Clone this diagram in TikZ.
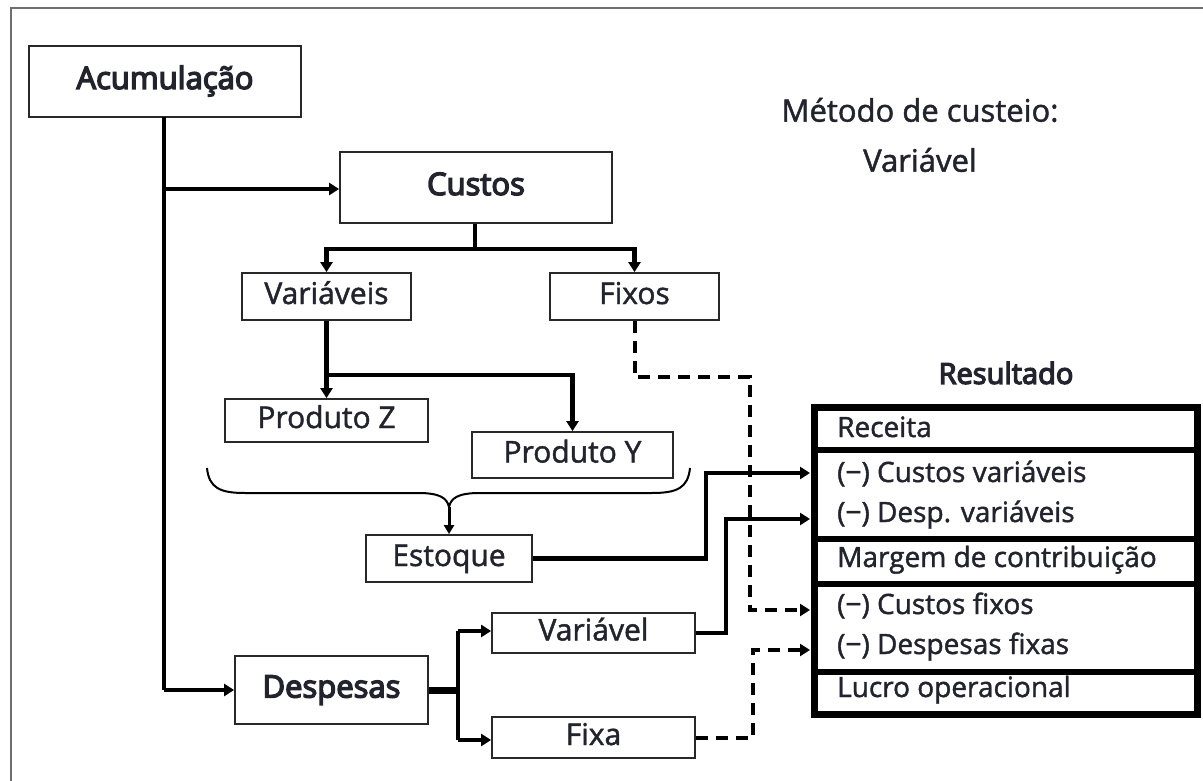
\documentclass[tikz,border=0pt]{standalone}
\usepackage{fontspec}
\setmainfont{Open Sans}
\newfontfamily\regf{Open Sans}[FakeBold=1.5]
\newfontfamily\semf{Open Sans}[FakeBold=4.5]
\usetikzlibrary{arrows.meta}
\definecolor{textc}{RGB}{35,35,45}
\definecolor{boxc}{RGB}{40,40,40}
\definecolor{framec}{RGB}{110,110,110}
\tikzset{
  fbox/.style={draw=boxc, line width=1.8pt, inner sep=0pt, text=textc,
    font=\regf\fontsize{30}{34}\selectfont, text height=21pt, text depth=6pt},
  boldtxt/.style={font=\semf\fontsize{31}{34}\selectfont},
  conn/.style={line width=4.5pt, draw=black, -{Triangle[length=10pt,width=12pt]}},
  plain/.style={line width=4.5pt, draw=black},
  dconn/.style={line width=4pt, draw=black, dash pattern=on 12pt off 8pt, -{Triangle[length=10pt,width=12pt]}},
  rtxt/.style={anchor=west, text=textc, inner sep=0pt, font=\regf\fontsize{28}{32}\selectfont, text height=20pt, text depth=6pt},
  ftxt/.style={text=textc, inner sep=0pt, font=\regf\fontsize{31}{34}\selectfont}
}
\begin{document}
\begin{tikzpicture}[x=1pt,y=-1pt]
\useasboundingbox (0,0) rectangle (1203,781);
\clip (0,0) rectangle (1203,781);
\draw[framec, line width=1.5pt] (11,800) -- (11,8) -- (1220,8);

% boxes
\node[fbox, boldtxt, minimum width=272pt, minimum height=71pt] (acc) at (165,81.5) {Acumulação};
\node[fbox, boldtxt, minimum width=272pt, minimum height=71pt] (cus) at (476,187.5) {Custos};
\node[fbox, minimum width=169pt, minimum height=47pt] (varc) at (326.5,296.5) {Variáveis};
\node[fbox, minimum width=169pt, minimum height=47pt] (fix) at (634.5,296.5) {Fixos};
\node[fbox, minimum width=203pt, minimum height=43pt] (pz) at (326.5,420.5) {Produto Z};
\node[fbox, minimum width=201pt, minimum height=46pt] (py) at (572.5,455) {Produto Y};
\node[fbox, minimum width=166pt, minimum height=47pt] (est) at (449,558.5) {Estoque};
\node[fbox, boldtxt, minimum width=193pt, minimum height=68pt] (desp) at (331.5,690) {Despesas};
\node[fbox, minimum width=203pt, minimum height=40pt] (vard) at (593.5,633) {Variável};
\node[fbox, minimum width=203pt, minimum height=41pt] (fixa) at (593.5,737.5) {Fixa};

% method text
\node[ftxt] (met1) at (920,110) {Método de custeio:};
\node[ftxt] (met2) at (920,160) {Variável};

% Resultado
\node[ftxt, font=\semf\fontsize{29}{32}\selectfont] (restit) at (1006,373) {Resultado};
\node[draw=black, line width=7pt, minimum width=383pt, minimum height=307pt, inner sep=0pt] (res) at (1005.5,560.5) {};
\foreach \yy in {450,538.5,583.5,671.5}{
  \draw[line width=6pt] (res.west |- 0,\yy) -- (res.east |- 0,\yy);
}
\node[rtxt] (r1) at (837,430) {Receita};
\node[rtxt] (r2) at (837,475) {(−) Custos variáveis};
\node[rtxt] (r3) at (837,515) {(−) Desp. variáveis};
\node[rtxt] (r4) at (837,560) {Margem de contribuição};
\node[rtxt] (r5) at (837,607) {(−) Custos fixos};
\node[rtxt] (r6) at (837,647) {(−) Despesas fixas};
\node[rtxt] (r7) at (837,690) {Lucro operacional};

% target coordinates on Resultado left edge
\coordinate (tcv) at (810,473);
\coordinate (tdv) at (810,519);
\coordinate (tcf) at (810,610);
\coordinate (tdf) at (810,650);

% Acumulacao connectors
\coordinate (accx) at (164,117);
\draw[plain] (accx) -- (164,690);
\draw[conn] (164,189) -- (cus.west |- 0,189);
\draw[conn] (164,690) -- (desp.west);

% Custos to Variaveis/Fixos
\coordinate (cj) at (475,249);
\draw[plain] (cus.south -| cj) -- (cj);
\draw[conn] (cj) -| (varc.north);
\draw[conn] (cj) -| (fix.north);

% Variaveis to products
\coordinate (vj) at (326.5,375);
\draw[conn] (varc.south) -- (pz.north);
\draw[conn] (vj) -| (py.north);

% brace
\coordinate (brtip) at (449,507);
\draw[line width=2pt] (207,468) .. controls (209,488) and (220,493) .. (245,493) -- (418,493) .. controls (440,493) and (447,498) .. (brtip);
\draw[line width=2pt] (690,468) .. controls (688,488) and (677,493) .. (652,493) -- (480,493) .. controls (458,493) and (451,498) .. (brtip);
\draw[line width=3pt, -{Triangle[length=9pt,width=10pt]}] (brtip) -- (est.north);

% Estoque to Resultado
\draw[conn] (est.east) -| (706,520) |- (tcv);

% Despesas split
\coordinate (dj) at (458,690);
\draw[line width=7pt] (desp.east) -- (dj);
\draw[plain] (458,631) -- (458,740);
\draw[conn] (458,631) -- (vard.west |- 0,631);
\draw[conn] (458,740) -- (fixa.west |- 0,740);

% Variavel to Resultado
\draw[conn] (vard.east) -| (726,560) |- (tdv);

% dashed
\draw[dconn] (fix.south) |- (750,377) |- (tcf);
\draw[dconn] (fixa.east) -| (753,700) |- (tdf);
\end{tikzpicture}
\end{document}
